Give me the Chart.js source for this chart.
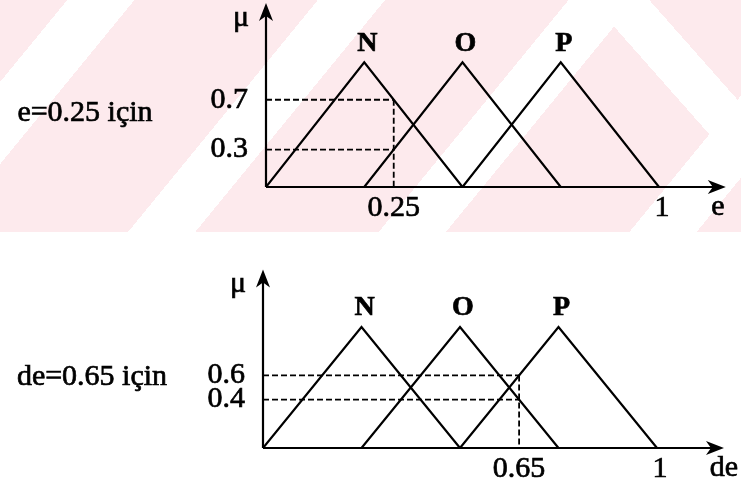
<!DOCTYPE html>
<html>
<head>
<meta charset="utf-8">
<title>Bulanık üyelik fonksiyonları</title>
<script src="https://cdn.jsdelivr.net/npm/chart.js@4.4.0/dist/chart.umd.min.js"></script>
<style>
    html, body { margin: 0; padding: 0; background: #fff; }
    body { width: 741px; height: 488px; position: relative; overflow: hidden; }
    #wash {
        position: absolute; left: 0; top: 0; width: 741px; height: 232px;
        background:
            linear-gradient(48.5deg, transparent 0, transparent 596px, #fff 596px, #fff 640px, transparent 640px),
            repeating-linear-gradient(129.3deg, #fdeaed 0, #fdeaed 52px, #fff 52px, #fff 104px, #fdeaed 104px, #fdeaed 194px);
    }
    canvas { position: absolute; left: 0; }
    #eChart { top: 0; }
    #deChart { top: 240px; }
</style>
</head>
<body>
<div id="wash"></div>
<canvas id="eChart" width="741" height="240"></canvas>
<canvas id="deChart" width="741" height="248"></canvas>
<script>
// Triangle corners of the three fuzzy sets on the drawn axis (0..1)
const setNames = ['N', 'O', 'P'];
const nCorners = [0, 0.25, 0.5];
const oCorners = [0.25, 0.5, 0.75];
const pCorners = [0.5, 0.75, 1];
const cornerMu = [0, 1, 0];

// e = 0.25 reading; the sketch draws it where N is 0.7 and O is 0.3
const eReading = 0.325;
const eReadingLabel = '0.25';
const eGrades = [0.7, 0.3];

// de = 0.65 reading
const deReading = 0.65;
const deReadingLabel = '0.65';
const deGrades = [0.6, 0.4];

const endTickLabel = '1';

const SERIF = '"Liberation Serif", "DejaVu Serif", serif';

document.addEventListener('DOMContentLoaded', function() {
    drawPanel('eChart', {
        reading: eReading, readingLabel: eReadingLabel, grades: eGrades,
        axisName: 'e', axisNameX: 1.15, caption: 'e=0.25 için', captionX: 85, captionY: 113,
        padding: { left: 266, top: 0, right: 3.4, bottom: 53 }
    });
    drawPanel('deChart', {
        reading: deReading, readingLabel: deReadingLabel, grades: deGrades,
        axisName: 'de', axisNameX: 1.17, caption: 'de=0.65 için', captionX: 92, captionY: 137,
        padding: { left: 263, top: 26.5, right: 5.2, bottom: 40 }
    });
});

function triangle(corners) {
    return corners.map((x, i) => ({ x: x, y: cornerMu[i] }));
}

function solidLine(points) {
    return {
        data: points, showLine: true, borderColor: '#000', borderWidth: 2.2,
        pointRadius: 0, tension: 0, fill: false
    };
}

function dashedLine(points) {
    return {
        data: points, showLine: true, borderColor: '#000', borderWidth: 1.8,
        borderDash: [6, 3], pointRadius: 0, tension: 0, fill: false
    };
}

// filled arrow head, pointing along (dx, dy)
function arrowHead(ctx, x, y, dx, dy) {
    const len = 18, half = 7, notch = 13;
    const px = -dy, py = dx;
    ctx.beginPath();
    ctx.moveTo(x, y);
    ctx.lineTo(x - dx * len + px * half, y - dy * len + py * half);
    ctx.lineTo(x - dx * notch, y - dy * notch);
    ctx.lineTo(x - dx * len - px * half, y - dy * len - py * half);
    ctx.closePath();
    ctx.fill();
}

// scanned print looks heavier, so text gets a thin outline too
function inkText(c, text, x, y) {
    c.fillText(text, x, y);
    c.strokeText(text, x, y);
}

function drawPanel(canvasId, cfg) {
    const ctx = document.getElementById(canvasId).getContext('2d');
    const datasets = [
        solidLine(triangle(nCorners)),
        solidLine(triangle(oCorners)),
        solidLine(triangle(pCorners))
    ];
    cfg.grades.forEach(g => {
        datasets.push(dashedLine([{ x: 0, y: g }, { x: cfg.reading, y: g }]));
    });
    datasets.push(dashedLine([{ x: cfg.reading, y: Math.max(...cfg.grades) }, { x: cfg.reading, y: 0 }]));

    const sketch = {
        id: 'sketch',
        afterDatasetsDraw(chart) {
            const c = chart.ctx;
            const xs = chart.scales.x, ys = chart.scales.y;
            const x0 = xs.getPixelForValue(0), y0 = ys.getPixelForValue(0);
            const xTip = xs.getPixelForValue(1.17), yTip = ys.getPixelForValue(1.476);
            c.save();
            c.strokeStyle = '#000';
            c.fillStyle = '#000';
            c.lineWidth = 2.2;
            c.beginPath();
            c.moveTo(x0, y0); c.lineTo(x0, yTip + 8);
            c.moveTo(x0, y0); c.lineTo(xTip - 8, y0);
            c.stroke();
            arrowHead(c, x0, yTip, 0, -1);
            arrowHead(c, xTip, y0, 1, 0);

            c.lineWidth = 0.7;
            c.textBaseline = 'middle';
            c.font = '30px ' + SERIF;
            c.textAlign = 'center';
            inkText(c, 'μ', x0 - 25, yTip + 15);
            // y grades
            c.textAlign = 'right';
            cfg.grades.forEach(g => inkText(c, String(g), x0 - 18, ys.getPixelForValue(g)));
            // x ticks
            c.textAlign = 'center';
            inkText(c, cfg.readingLabel, xs.getPixelForValue(cfg.reading), y0 + 21);
            inkText(c, endTickLabel, xs.getPixelForValue(1) + 3, y0 + 21);
            inkText(c, cfg.axisName, xs.getPixelForValue(cfg.axisNameX), y0 + 20);
            // set names over the peaks
            c.font = 'bold 28px ' + SERIF;
            [nCorners, oCorners, pCorners].forEach((cr, i) => {
                inkText(c, setNames[i], xs.getPixelForValue(cr[1]) + 3, ys.getPixelForValue(1) - 19);
            });
            // caption
            c.font = '30px ' + SERIF;
            inkText(c, cfg.caption, cfg.captionX, cfg.captionY);
            c.restore();
        }
    };

    return new Chart(ctx, {
        type: 'scatter',
        data: { datasets: datasets },
        options: {
            responsive: false,
            animation: false,
            events: [],
            layout: { padding: cfg.padding },
            plugins: { legend: { display: false }, tooltip: { enabled: false } },
            scales: {
                x: { type: 'linear', min: 0, max: 1.2, display: false },
                y: { type: 'linear', min: 0, max: 1.5, display: false }
            }
        },
        plugins: [sketch]
    });
}
</script>
</body>
</html>
